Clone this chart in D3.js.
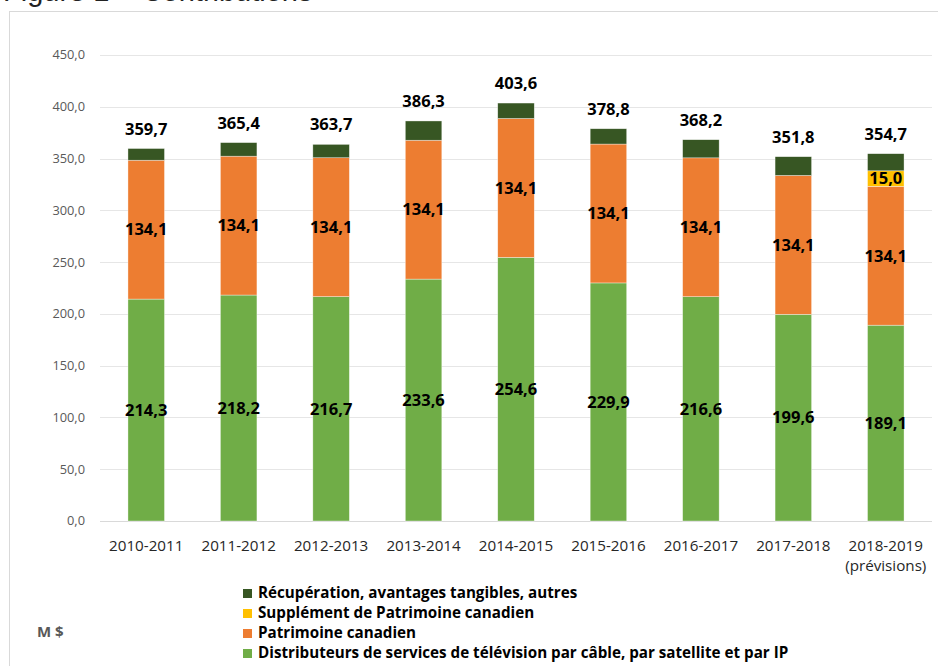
<!DOCTYPE html>
<html>
<head>
<meta charset="utf-8">
<script src="https://cdn.jsdelivr.net/npm/d3@7"></script>
<style>
  body { margin: 0; background: #fff; }
  svg { display: block; }
  .ytick text { font-family: "Open Sans", sans-serif; font-size: 12.8px; fill: #595959; }
  .xlab { font-family: "Open Sans", sans-serif; font-size: 15.2px; fill: #262626; }
  .val { font-family: "Open Sans", sans-serif; font-size: 16.5px; font-weight: 700; fill: #000; }
  .leg { font-family: "Open Sans", sans-serif; font-size: 15.2px; font-weight: 700; fill: #000; }
</style>
</head>
<body>
<script>

// years (x categories)
let years = ['2010-2011', '2011-2012', '2012-2013', '2013-2014', '2014-2015',
             '2015-2016', '2016-2017', '2017-2018', '2018-2019'];

// series (M $)
let distributeurs = [214.3, 218.2, 216.7, 233.6, 254.6, 229.9, 216.6, 199.6, 189.1];
let patrimoine = [134.1, 134.1, 134.1, 134.1, 134.1, 134.1, 134.1, 134.1, 134.1];
let supplement = [0, 0, 0, 0, 0, 0, 0, 0, 15.0];
let recuperation = [11.3, 13.1, 12.9, 18.6, 14.9, 14.8, 17.5, 18.1, 16.5];
let totals = [359.7, 365.4, 363.7, 386.3, 403.6, 378.8, 368.2, 351.8, 354.7];

let yTicks = [0, 50, 100, 150, 200, 250, 300, 350, 400, 450];

let legendNames = ['Récupération, avantages tangibles, autres',
                   'Supplément de Patrimoine canadien',
                   'Patrimoine canadien',
                   'Distributeurs de services de télévision par câble, par satellite et par IP'];

window.onload = function() {
  draw();
};

function fmt(v) {
  return v.toFixed(1).replace('.', ',');
}

function draw() {

  let W = 938, H = 666;
  let svg = d3.select('body').append('svg')
     .attr('width', W)
     .attr('height', H);

  // title, cut off at the very top like in the source
  svg.append('text')
     .attr('x', 3)
     .attr('y', 1)
     .style('font-family', '"Liberation Sans", Arial, sans-serif')
     .style('font-size', '29px')
     .attr('fill', '#222')
     .text('Figure 1 – Contributions');

  // chart frame
  svg.append('rect')
     .attr('x', 9.5)
     .attr('y', 11.5)
     .attr('width', 940)
     .attr('height', 680)
     .attr('fill', 'none')
     .attr('stroke', '#d9d9d9')
     .attr('stroke-width', 1);

  let x = d3.scaleBand()
     .domain(years)
     .range([100, 932])
     .paddingInner(0.605)
     .paddingOuter(0.3025);

  let y = d3.scaleLinear()
     .domain([0, 450])
     .range([521, 55]);

  // gridlines + y labels
  let yg = svg.append('g').attr('class', 'ytick');
  yg.selectAll('line')
     .data(yTicks)
     .enter()
     .append('line')
     .attr('x1', 100)
     .attr('x2', 932)
     .attr('y1', d => Math.round(y(d)) + 0.5)
     .attr('y2', d => Math.round(y(d)) + 0.5)
     .attr('stroke', d => d == 0 ? '#d9d9d9' : '#e6e6e6')
     .attr('stroke-width', 1);
  yg.selectAll('text')
     .data(yTicks)
     .enter()
     .append('text')
     .attr('x', 85)
     .attr('y', d => y(d))
     .attr('dy', '0.35em')
     .attr('text-anchor', 'end')
     .text(d => fmt(d));

  // stack the series
  let keys = ['distributeurs', 'patrimoine', 'supplement', 'recuperation'];
  let colors = {
    distributeurs: '#70ad47',
    patrimoine: '#ed7d31',
    supplement: '#ffc000',
    recuperation: '#375623'
  };
  let rows = years.map(function(yr, i) {
    return {year: yr, distributeurs: distributeurs[i], patrimoine: patrimoine[i],
            supplement: supplement[i], recuperation: recuperation[i]};
  });
  let stacked = d3.stack().keys(keys)(rows);

  let layers = svg.selectAll('g.layer')
     .data(stacked)
     .enter()
     .append('g')
     .attr('class', 'layer')
     .attr('fill', d => colors[d.key]);

  layers.selectAll('rect')
     .data(d => d)
     .enter()
     .append('rect')
     .attr('x', d => x(d.data.year))
     .attr('width', x.bandwidth())
     .attr('y', d => y(d[1]))
     .attr('height', d => y(d[0]) - y(d[1]))
     .attr('stroke', '#fff')
     .attr('stroke-opacity', 0.6)
     .attr('stroke-width', 0.6);

  // labels inside segments
  stacked.forEach(function(layer) {
    if (layer.key == 'recuperation') return;
    svg.append('g').selectAll('text')
       .data(layer.filter(d => d[1] - d[0] > 0))
       .enter()
       .append('text')
       .attr('class', 'val')
       .attr('x', d => x(d.data.year) + x.bandwidth() / 2)
       .attr('y', d => y((d[0] + d[1]) / 2))
       .attr('dy', '0.35em')
       .attr('text-anchor', 'middle')
       .text(d => fmt(d[1] - d[0]));
  });

  // totals
  svg.append('g').selectAll('text')
     .data(totals)
     .enter()
     .append('text')
     .attr('class', 'val')
     .attr('x', (d, i) => x(years[i]) + x.bandwidth() / 2)
     .attr('y', d => y(d) - 14)
     .attr('text-anchor', 'middle')
     .text(d => fmt(d));

  // x labels
  let xl = svg.append('g');
  xl.selectAll('text')
     .data(years)
     .enter()
     .append('text')
     .attr('class', 'xlab')
     .attr('x', d => x(d) + x.bandwidth() / 2)
     .attr('y', 551)
     .attr('text-anchor', 'middle')
     .text(d => d);
  xl.append('text')
     .attr('class', 'xlab')
     .attr('x', x(years[8]) + x.bandwidth() / 2)
     .attr('y', 571)
     .attr('text-anchor', 'middle')
     .text('(prévisions)');

  // legend
  let legColors = ['#375623', '#ffc000', '#ed7d31', '#70ad47'];
  let leg = svg.append('g').attr('transform', 'translate(243,593)');
  legendNames.forEach(function(name, i) {
    leg.append('rect')
       .attr('x', 0)
       .attr('y', i * 20 - 4)
       .attr('width', 9)
       .attr('height', 9)
       .attr('fill', legColors[i]);
    leg.append('text')
       .attr('class', 'leg')
       .attr('x', 15)
       .attr('y', i * 20)
       .attr('dy', '0.35em')
       .text(name);
  });

  // unit
  svg.append('text')
     .attr('x', 37)
     .attr('y', 632)
     .attr('dy', '0.35em')
     .style('font-family', '"Open Sans", sans-serif')
     .style('font-size', '15px')
     .style('font-weight', '700')
     .attr('fill', '#595959')
     .text('M $');
}
</script>
</body>
</html>
